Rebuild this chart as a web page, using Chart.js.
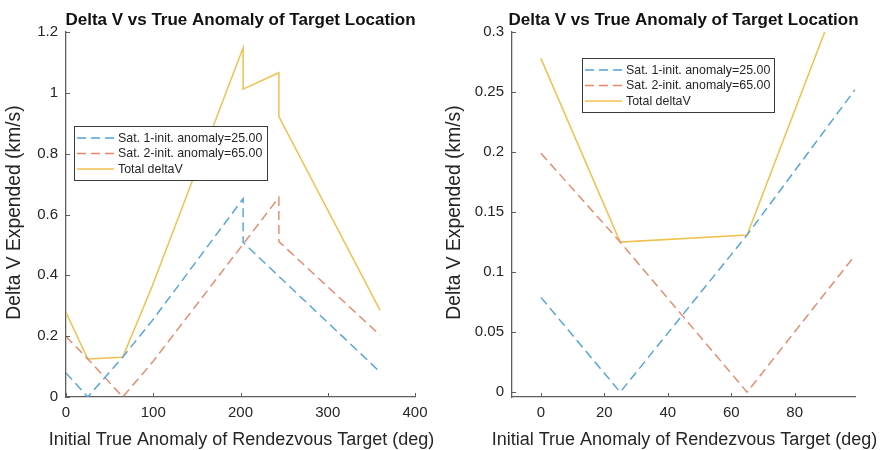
<!DOCTYPE html>
<html>
<head>
<meta charset="utf-8">
<script src="https://cdn.jsdelivr.net/npm/chart.js@4.4.1/dist/chart.umd.min.js"></script>
<style>
  html, body { margin: 0; padding: 0; background: #ffffff; }
  #wrap { position: relative; width: 881px; height: 450px; }
  canvas.panel { position: absolute; top: 0; }
</style>
</head>
<body>
<div id="wrap">
  <canvas id="leftPanel" class="panel" width="440" height="450" style="left:0px"></canvas>
  <canvas id="rightPanel" class="panel" width="441" height="450" style="left:440px"></canvas>
</div>
<script>
// Delta V needed by each satellite vs. initial true anomaly of the target (deg -> km/s)
const sat1Anomaly  = [0, 25, 65, 99, 203, 203, 360];
const sat1DeltaV   = [0.079, 0, 0.131, 0.252, 0.652, 0.508, 0.082];
const sat2Anomaly  = [0, 25, 65, 99, 244, 244, 360];
const sat2DeltaV   = [0.199, 0.125, 0, 0.114, 0.656, 0.511, 0.203];
const totalAnomaly = [0, 25, 65, 99, 203, 203, 244, 244, 360];
const totalDeltaV  = [0.278, 0.125, 0.131, 0.366, 1.148, 1.012, 1.066, 0.922, 0.285];

const seriesLabels = ['Sat. 1-init. anomaly=25.00', 'Sat. 2-init. anomaly=65.00', 'Total deltaV'];

// Tick values of the full-range panel and the zoomed panel
const fullXTicks = [0, 100, 200, 300, 400];
const fullYTicks = [0, 0.2, 0.4, 0.6, 0.8, 1, 1.2];
const zoomXTicks = [0, 20, 40, 60, 80];
const zoomYTicks = [0, 0.05, 0.1, 0.15, 0.2, 0.25, 0.3];

const plotTitle = 'Delta V vs True Anomaly of Target Location';
const xAxisTitle = 'Initial True Anomaly of Rendezvous Target (deg)';
const yAxisTitle = 'Delta V Expended (km/s)';

const FONT = '"Liberation Sans", Arial, Helvetica, sans-serif';
const AXIS_COLOR = '#5e5e5e';
const TEXT_COLOR = '#262626';
const BLUE = '#4fa3da';
const RED = '#e8866a';
const YELLOW = '#f1c150';

function pts(xs, ys) { return xs.map((x, i) => ({ x: x, y: ys[i] })); }

function buildDatasets() {
  return [
    { label: seriesLabels[0], data: pts(sat1Anomaly, sat1DeltaV), borderColor: BLUE,
      borderWidth: 1.4, borderDash: [9, 5], pointRadius: 0, fill: false, tension: 0 },
    { label: seriesLabels[1], data: pts(sat2Anomaly, sat2DeltaV), borderColor: RED,
      borderWidth: 1.4, borderDash: [9, 5], pointRadius: 0, fill: false, tension: 0 },
    { label: seriesLabels[2], data: pts(totalAnomaly, totalDeltaV), borderColor: YELLOW,
      borderWidth: 1.5, pointRadius: 0, fill: false, tension: 0 }
  ];
}

// Title, axis titles, inward tick marks and the boxed legend, drawn MATLAB style
const decorPlugin = {
  id: 'decor',
  afterDraw(chart, args, opts) {
    const ctx = chart.ctx;
    const area = chart.chartArea;
    const xs = chart.scales.x, ys = chart.scales.y;
    ctx.save();

    // inward tick marks
    ctx.strokeStyle = AXIS_COLOR;
    ctx.lineWidth = 1;
    ctx.beginPath();
    xs.ticks.forEach(t => {
      const px = Math.round(xs.getPixelForValue(t.value)) + 0.5;
      ctx.moveTo(px, area.bottom);
      ctx.lineTo(px, area.bottom - 4);
    });
    ys.ticks.forEach(t => {
      const py = Math.round(ys.getPixelForValue(t.value)) + 0.5;
      ctx.moveTo(area.left, py);
      ctx.lineTo(area.left + 4, py);
    });
    ctx.stroke();

    // plot title
    ctx.fillStyle = '#111111';
    ctx.font = 'bold 17px ' + FONT;
    ctx.textAlign = 'center';
    ctx.textBaseline = 'alphabetic';
    ctx.fillText(plotTitle, (area.left + area.right) / 2, 25);

    // x axis title
    ctx.fillStyle = TEXT_COLOR;
    ctx.font = '18px ' + FONT;
    ctx.fillText(xAxisTitle, (area.left + area.right) / 2 + 1, 445);

    // y axis title
    ctx.save();
    ctx.font = '19.3px ' + FONT;
    ctx.translate(opts.yTitleX, (area.top + area.bottom) / 2 - 2);
    ctx.rotate(-Math.PI / 2);
    ctx.textBaseline = 'middle';
    ctx.fillText(yAxisTitle, 0, 0);
    ctx.restore();

    // legend box
    const lx = opts.legendX, ly = opts.legendY, lw = opts.legendW, lh = opts.legendH;
    ctx.fillStyle = '#ffffff';
    ctx.fillRect(lx, ly, lw, lh);
    ctx.strokeStyle = '#3a3a3a';
    ctx.lineWidth = 1;
    ctx.strokeRect(lx + 0.5, ly + 0.5, lw, lh);
    const rowY = [ly + 12, ly + 27.5, ly + 43];
    ctx.font = '12.4px ' + FONT;
    ctx.textAlign = 'left';
    ctx.textBaseline = 'middle';
    chart.data.datasets.forEach((ds, i) => {
      ctx.strokeStyle = ds.borderColor;
      ctx.lineWidth = ds.borderWidth;
      ctx.setLineDash(ds.borderDash || []);
      ctx.beginPath();
      ctx.moveTo(lx + 3, rowY[i]);
      ctx.lineTo(lx + 40, rowY[i]);
      ctx.stroke();
      ctx.setLineDash([]);
      ctx.fillStyle = TEXT_COLOR;
      ctx.fillText(ds.label, lx + 44, rowY[i] + 0.5);
    });
    ctx.restore();
  }
};

function makePanel(id, p) {
  return new Chart(document.getElementById(id), {
    type: 'line',
    data: { datasets: buildDatasets() },
    plugins: [decorPlugin],
    options: {
      responsive: false,
      animation: false,
      events: [],
      layout: { padding: { left: 0, top: 32, right: p.padRight, bottom: 0 } },
      plugins: {
        legend: { display: false },
        title: { display: false },
        tooltip: { enabled: false },
        decor: { yTitleX: p.yTitleX, legendX: p.legendX, legendY: p.legendY,
                 legendW: p.legendW, legendH: p.legendH }
      },
      scales: {
        x: {
          type: 'linear', min: p.xMin, max: p.xMax,
          afterBuildTicks: s => { s.ticks = p.xTicks.map(v => ({ value: v })); },
          afterFit: s => { s.height = 53; },
          grid: { display: false, drawTicks: false },
          border: { display: true, color: AXIS_COLOR, width: 1.3 },
          ticks: { padding: 7, color: TEXT_COLOR, font: { family: FONT, size: 15 },
                   maxRotation: 0, autoSkip: false, callback: v => String(v) }
        },
        y: {
          type: 'linear', min: p.yMin, max: p.yMax,
          afterBuildTicks: s => { s.ticks = p.yTicks.map(v => ({ value: v })); },
          afterFit: s => { s.width = p.yAxisWidth; },
          grid: { display: false, drawTicks: false },
          border: { display: true, color: AXIS_COLOR, width: 1.3 },
          ticks: { padding: 8, color: TEXT_COLOR, font: { family: FONT, size: 15 },
                   autoSkip: false, callback: v => String(v) }
        }
      }
    }
  });
}

makePanel('leftPanel', {
  xMin: 0, xMax: 400, yMin: 0, yMax: 1.2,
  xTicks: fullXTicks, yTicks: fullYTicks,
  yAxisWidth: 66, padRight: 25, yTitleX: 15,
  legendX: 74, legendY: 126, legendW: 193, legendH: 54
});

makePanel('rightPanel', {
  xMin: -9.1, xMax: 99, yMin: -0.004, yMax: 0.3,
  xTicks: zoomXTicks, yTicks: zoomYTicks,
  yAxisWidth: 72, padRight: 26, yTitleX: 15,
  legendX: 142, legendY: 58, legendW: 192, legendH: 54
});
</script>
</body>
</html>
